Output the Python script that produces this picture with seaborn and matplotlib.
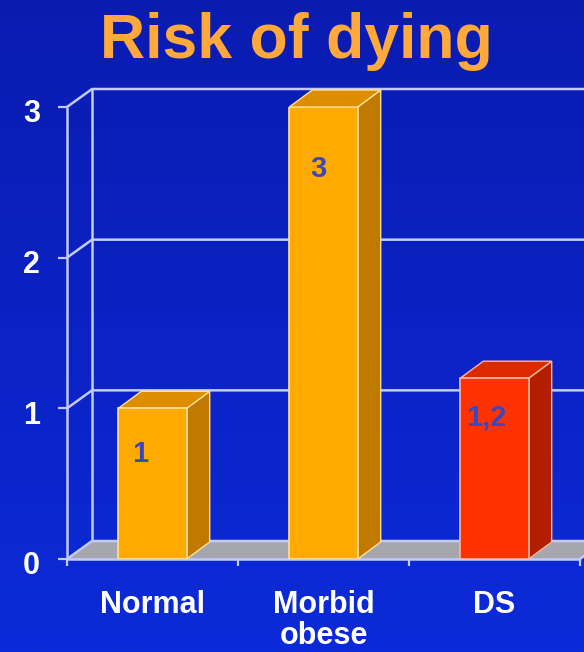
import numpy as np
import pandas as pd
import seaborn as sns
import matplotlib
matplotlib.use("Agg")
import matplotlib.pyplot as plt
from matplotlib.patches import Polygon, Rectangle
from matplotlib.lines import Line2D
from matplotlib.transforms import IdentityTransform, ScaledTranslation
from matplotlib.colors import LinearSegmentedColormap

# ---- data ----
categories = ["Normal", "Morbid\nobese", "DS"]
risk = [1.0, 3.0, 1.2]
value_labels = ["1", "3", "1,2"]
y_ticks = [0, 1, 2, 3]

# ---- styling ----
front_colors = ["#ffaa00", "#ffaa00", "#ff3300"]
top_colors = ["#dc8e00", "#dc8e00", "#dc2a00"]
side_colors = ["#c07a00", "#c07a00", "#b41e00"]
edge_colors = ["#ffe09a", "#ffe09a", "#ffb4a0"]
label_shift = [(-12, -46), (-5, -62), (-8, -39)]   # value label offset from bar top, px
GRID = "#c2caff"
FLOOR = "#a6a6ae"
WALL_DX, WALL_DY = 25, 18     # depth of the chart box, in pixels
BAR_DX, BAR_DY = 23, 17       # depth of each bar, in pixels

W, H, DPI = 584, 652, 100

sns.set_style("white")
plt.rcParams["font.family"] = ["Liberation Sans", "DejaVu Sans"]

fig = plt.figure(figsize=(W / DPI, H / DPI), dpi=DPI)

# vertical blue gradient behind everything
bg = fig.add_axes([0, 0, 1, 1], zorder=0)
cmap = LinearSegmentedColormap.from_list("bg", ["#0a1cb0", "#0b22c4", "#0c2bd8"])
bg.imshow(np.linspace(0, 1, 256).reshape(-1, 1), cmap=cmap, aspect="auto",
          extent=[0, 1, 0, 1])
bg.set_axis_off()

ax = fig.add_axes([67 / W, (H - 559) / H, 513 / W, 452 / H], zorder=1)
ax.set_facecolor("none")

df = pd.DataFrame({"group": categories, "risk": risk})
sns.barplot(data=df, x="group", y="risk", hue="group", palette=front_colors,
            legend=False, width=0.4, saturation=1, ax=ax)
bars = sorted([p for p in ax.patches if isinstance(p, Rectangle)],
              key=lambda p: p.get_x())

ax.set_xlim(-0.5, 2.5)
ax.set_ylim(0, 3)
ax.set_xlabel("")
ax.set_ylabel("")
for s in ax.spines.values():
    s.set_visible(False)

# y axis ticks and labels
ax.set_yticks(y_ticks)
ax.set_yticklabels([str(t) for t in y_ticks])
ax.tick_params(axis="y", direction="out", length=6.5, width=1.6, color=GRID,
               labelcolor="white", labelsize=22, pad=13, left=True)
for lbl in ax.get_yticklabels():
    lbl.set_fontweight("bold")
    lbl.set_transform(lbl.get_transform() + ScaledTranslation(0, -4 / DPI, fig.dpi_scale_trans))

# x axis: labels at category centres, tick marks between categories
ax.set_xticks(range(len(categories)))
ax.set_xticklabels(categories, linespacing=1.05)
ax.set_xticks([-0.5, 0.5, 1.5, 2.5], minor=True)
ax.tick_params(axis="x", which="major", length=0, labelcolor="white",
               labelsize=22, pad=22)
ax.tick_params(axis="x", which="minor", direction="out", length=5, width=1.6,
               color=GRID, bottom=True)
for lbl in ax.get_xticklabels():
    lbl.set_fontweight("bold")

fig.canvas.draw()


def px(x, y):
    return ax.transData.transform((x, y))


ident = IdentityTransform()
x0, y0 = px(-0.5, 0)
x1, _ = px(2.5, 0)
_, ytop = px(-0.5, y_ticks[-1])

# floor
ax.add_patch(Polygon([(x0, y0), (x1, y0), (x1 + WALL_DX, y0 + WALL_DY), (x0 + WALL_DX, y0 + WALL_DY)],
                     closed=True, facecolor=FLOOR, edgecolor="none",
                     transform=ident, clip_on=False, zorder=1))


def seg(xs, ys, z=1.5, lw=1.8):
    ax.add_line(Line2D(xs, ys, color=GRID, lw=lw, transform=ident,
                       clip_on=False, zorder=z, solid_capstyle="butt"))


# gridlines on the side and back walls
for t in y_ticks:
    _, yf = px(-0.5, t)
    seg([x0, x0 + WALL_DX, x1 + WALL_DX + 40], [yf, yf + WALL_DY, yf + WALL_DY])
# wall edges and base line
seg([x0, x0], [y0, ytop])
seg([x0 + WALL_DX, x0 + WALL_DX], [y0 + WALL_DY, ytop + WALL_DY])
seg([x0, x1], [y0, y0])
seg([x1, x1 + WALL_DX], [y0, y0 + WALL_DY])

# 3D faces for each bar
for i, b in enumerate(bars):
    b.set_edgecolor(edge_colors[i])
    b.set_linewidth(1.2)
    b.set_zorder(3)
    xl, yb = px(b.get_x(), 0)
    xr, yt = px(b.get_x() + b.get_width(), b.get_height())
    side = [(xr, yb), (xr, yt), (xr + BAR_DX, yt + BAR_DY), (xr + BAR_DX, yb + BAR_DY)]
    top = [(xl, yt), (xr, yt), (xr + BAR_DX, yt + BAR_DY), (xl + BAR_DX, yt + BAR_DY)]
    ax.add_patch(Polygon(side, closed=True, facecolor=side_colors[i],
                         edgecolor=edge_colors[i], lw=1.0, transform=ident,
                         clip_on=False, zorder=2.9))
    ax.add_patch(Polygon(top, closed=True, facecolor=top_colors[i],
                         edgecolor=edge_colors[i], lw=1.0, transform=ident,
                         clip_on=False, zorder=2.9))

# value labels inside the bars
for i, (v, lab) in enumerate(zip(risk, value_labels)):
    ax.annotate(lab, xy=(i, v), xytext=label_shift[i], textcoords="offset pixels",
                ha="center", va="center", color="#3a48c0", fontsize=21,
                fontweight="bold", zorder=5)

fig.text(296.5 / W, 1 - 58 / H, "Risk of dying", ha="center", va="baseline",
         color="#ffa83c", fontsize=45, fontweight="bold")

fig.savefig("out.png", dpi=DPI)
